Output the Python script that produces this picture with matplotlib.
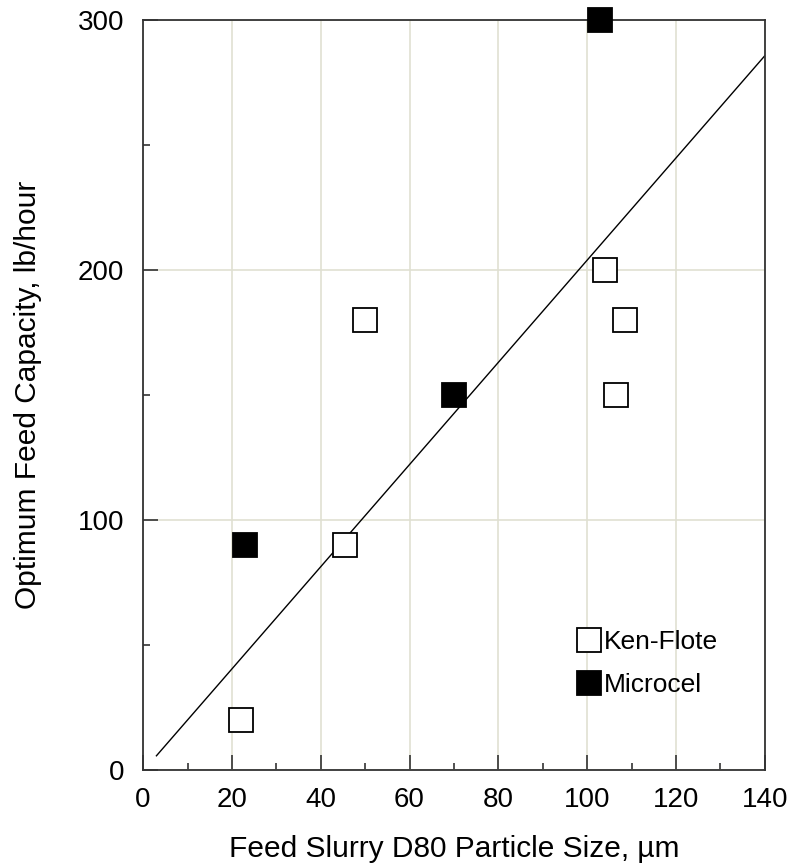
import numpy as np
import matplotlib
matplotlib.use("Agg")
from matplotlib import pyplot as plt
from matplotlib.ticker import MultipleLocator

plt.rcParams["font.family"] = ["Liberation Sans", "DejaVu Sans"]

# Ken-Flote (open squares)
kenflote_x = [22, 45.5, 50, 104, 108.5, 106.5]
kenflote_y = [20, 90, 180, 200, 180, 150]

# Microcel (filled squares)
microcel_x = [23, 70, 103]
microcel_y = [90, 150, 300]

# trend line
fit_x = [3, 140]
fit_slope = 2.044
fit_intercept = -0.5

fig = plt.figure(figsize=(7.95, 8.66), dpi=100)
ax = fig.add_axes([0.180, 0.111, 0.782, 0.866])

grid_color = "#e0e0d2"
ax.grid(True, which="major", color=grid_color, linewidth=1.2, zorder=0)

fx = np.array(fit_x)
ax.plot(fx, fit_slope * fx + fit_intercept, color="black", linewidth=1.0, zorder=2)

ax.plot(kenflote_x, kenflote_y, linestyle="none", marker="s", markersize=17,
        markerfacecolor="white", markeredgecolor="black", markeredgewidth=1.3,
        label="Ken-Flote", zorder=3, clip_on=False)
ax.plot(microcel_x, microcel_y, linestyle="none", marker="s", markersize=17,
        markerfacecolor="black", markeredgecolor="black", markeredgewidth=1.3,
        label="Microcel", zorder=3, clip_on=False)

ax.set_xlim(0, 140)
ax.set_ylim(0, 300)
ax.xaxis.set_major_locator(MultipleLocator(20))
ax.xaxis.set_minor_locator(MultipleLocator(10))
ax.yaxis.set_major_locator(MultipleLocator(100))
ax.yaxis.set_minor_locator(MultipleLocator(50))

for side in ["left", "bottom", "right", "top"]:
    ax.spines[side].set_color("#333333")
    ax.spines[side].set_linewidth(1.3)

ax.tick_params(which="both", direction="in", top=False, right=False,
               color="#333333", width=1.2, labelsize=20)
ax.tick_params(axis="y", pad=13.5)
ax.tick_params(axis="x", pad=12)
ax.tick_params(which="major", length=11)
ax.tick_params(which="minor", length=5)

ax.set_xlabel("Feed Slurry D80 Particle Size, µm", fontsize=21.5, labelpad=16)
ax.set_ylabel("Optimum Feed Capacity, lb/hour", fontsize=21.5, labelpad=26)

leg = ax.legend(loc="lower right", bbox_to_anchor=(0.963, 0.065), frameon=False,
                fontsize=19, handlelength=0.75, handletextpad=0.2,
                labelspacing=0.72, markerscale=1.0)

fig.savefig("out.png", dpi=100, facecolor="white")
